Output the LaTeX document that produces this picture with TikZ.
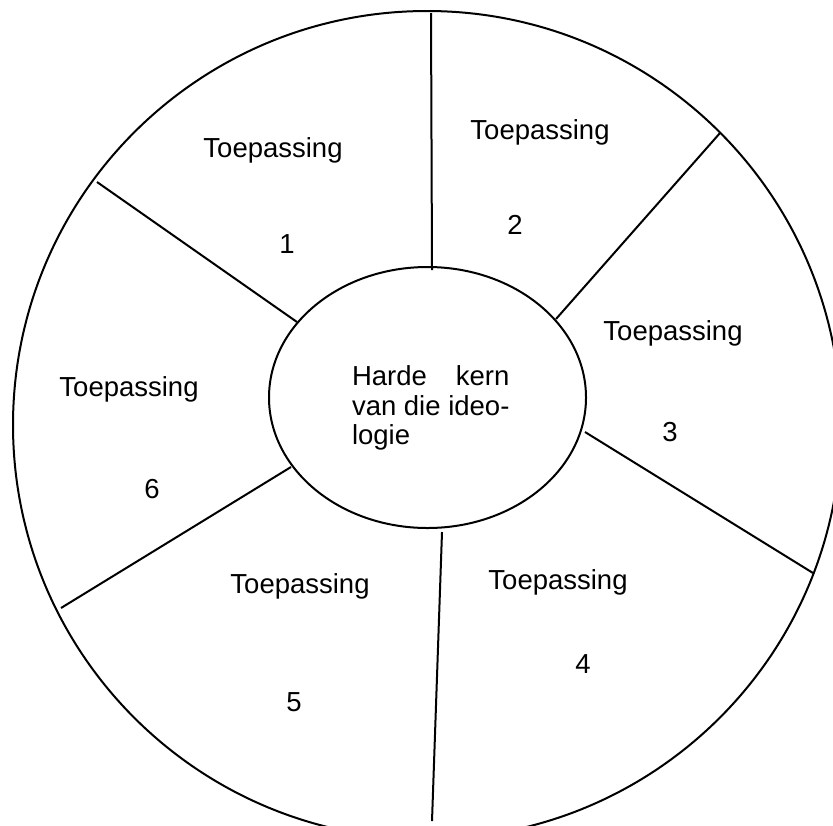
\documentclass[tikz,border=0pt]{standalone}
\usepackage{fontspec}
\setmainfont{Liberation Sans}
\newlength\kernw

\begin{document}
\fontsize{13.75}{14.75}\selectfont
\settowidth{\kernw}{van die ideo-}
\begin{tikzpicture}[x=0.5pt, y=-0.5pt, line width=1pt,
  tekst/.style={font=\fontsize{13.75}{14.75}\selectfont, inner sep=0pt}]
  % vaste rand: 833 x 825
  \useasboundingbox (0,0) rectangle (833,825);
  % buitenste sirkel en die harde kern
  \draw (427,425) circle [radius=207pt];
  \draw (427.5,397.5) ellipse [x radius=79.25pt, y radius=65.25pt];
  % speke: binne (a) en buite (b)
  \coordinate (s0a) at (432,270); \coordinate (s0b) at (431,13);
  \coordinate (s1a) at (297,322); \coordinate (s1b) at (97,182);
  \coordinate (s2a) at (556,319); \coordinate (s2b) at (720,133);
  \coordinate (s3a) at (585,432); \coordinate (s3b) at (813,573);
  \coordinate (s4a) at (442,532); \coordinate (s4b) at (432,821);
  \coordinate (s6a) at (291,467); \coordinate (s6b) at (61,608);
  \draw (s0a) -- (s0b);
  \draw (s1a) -- (s1b);
  \draw (s2a) -- (s2b);
  \draw (s3a) -- (s3b);
  \draw (s4a) -- (s4b);
  \draw (s6a) -- (s6b);
  % harde kern
  \node[tekst, anchor=north west, align=left] (kern) at (351,365)
    {\makebox[\kernw][s]{Harde kern}\\van die ideo-\\logie};
  % toepassings
  \node[tekst] (t1) at (273,150) {Toepassing};
  \node[tekst] (n1) at (287,244) {1};
  \node[tekst] (t2) at (540,132) {Toepassing};
  \node[tekst] (n2) at (515,225) {2};
  \node[tekst] (t3) at (673,333) {Toepassing};
  \node[tekst] (n3) at (670,432) {3};
  \node[tekst] (t4) at (558,582) {Toepassing};
  \node[tekst] (n4) at (583,664) {4};
  \node[tekst] (t5) at (300,586) {Toepassing};
  \node[tekst] (n5) at (294,702) {5};
  \node[tekst] (t6) at (129,389) {Toepassing};
  \node[tekst] (n6) at (152,489) {6};
\end{tikzpicture}
\end{document}
